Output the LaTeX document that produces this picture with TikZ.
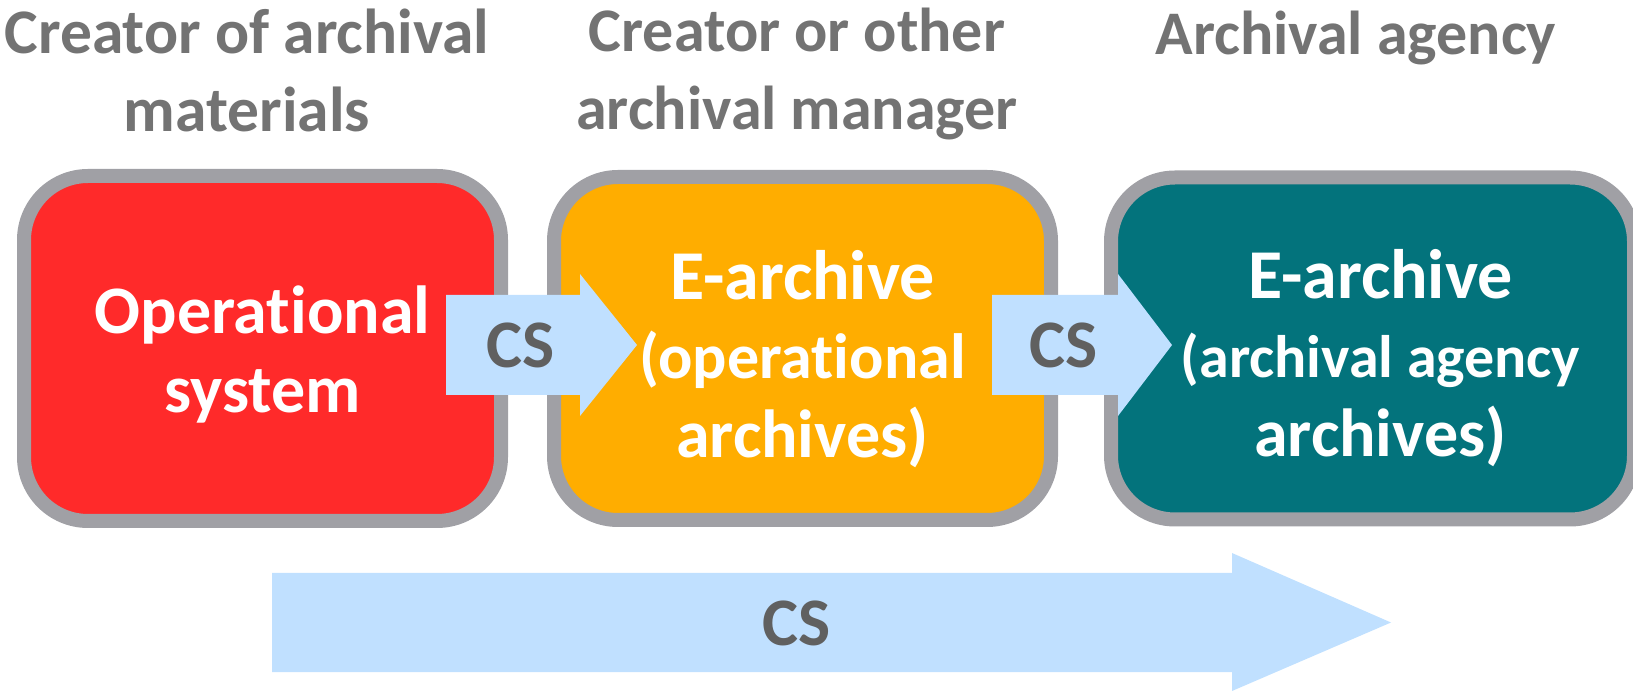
\documentclass[tikz,border=0pt]{standalone}
\usepackage{fontspec}
\setmainfont{Carlito}[Ligatures=NoCommon]
\usetikzlibrary{positioning}
\definecolor{myred}{RGB}{255,42,42}
\definecolor{myorange}{RGB}{255,173,0}
\definecolor{myteal}{RGB}{3,115,124}
\definecolor{mygray}{RGB}{160,160,165}
\definecolor{myblue}{RGB}{192,224,255}
\definecolor{mytext}{RGB}{96,96,96}
\definecolor{mytitle}{RGB}{115,115,115}

\begin{document}
\begin{tikzpicture}[x=1pt,y=1pt,node distance=39pt,inner sep=0pt]
\tikzstyle{main}=[rectangle, rounded corners=64pt, line width=14pt, draw=mygray]
\tikzstyle{inbox}=[text=white, align=center, font=\bfseries\fontsize{68}{79}\selectfont]
\tikzstyle{title}=[anchor=base, align=center, text=mytitle, font=\bfseries\fontsize{62}{78}\selectfont]
\tikzstyle{cs}=[text=mytext, font=\bfseries\fontsize{68}{80}\selectfont]
\tikzstyle{flow}=[fill=myblue]
\useasboundingbox (0,0) rectangle (1633,691);
\node[main,fill=myred,minimum width=477pt,minimum height=345pt] (os) at (262.5,342.5) {};
\node[main,fill=myorange,minimum width=497pt,minimum height=343pt] (opa) [right=of os] {};
\node[main,fill=myteal,minimum width=523pt,minimum height=342pt] (aga) [right=46pt of opa] {};
\node[inbox] (ostxt) at ([yshift=-6pt]os.center) {Operational\\system};
\node[inbox] (opatxt) at ([yshift=-11pt]opa.center) {\fontsize{70}{78}\selectfont E-archive\\\fontsize{64}{78}\selectfont(operational\\archives)};
\node[inbox] (agatxt) at ([xshift=8pt,yshift=-10pt]aga.center) {\fontsize{70}{74}\selectfont E-archive\\\fontsize{60}{74}\selectfont(archival agency\\archives)};
\node[title,font=\bfseries\fontsize{63.5}{78}\selectfont] (t1) at (247,559) {Creator of archival\\materials};
\node[title] (t2) at (797,561) {Creator or other\\archival manager};
\node[title] (t3) at (1356,636) {Archival agency};
% transfer arrows
\path[flow] (446,296) -- (580,296) -- (580,275) -- (637,346) -- (580,417) -- (580,396) -- (446,396) -- cycle;
\path[flow] (992,296) -- (1118,296) -- (1118,275) -- (1172,346) -- (1118,417) -- (1118,396) -- (992,396) -- cycle;
\path[flow] (272,19) -- (1232,19) -- (1232,0) -- (1391,68.5) -- (1232,138) -- (1232,118) -- (272,118) -- cycle;
\node[cs] (cs1) at (521,345.5) {CS};
\node[cs] (cs2) at (1064,345.5) {CS};
\node[cs] (cs3) at (797,67.5) {CS};
\end{tikzpicture}
\end{document}
